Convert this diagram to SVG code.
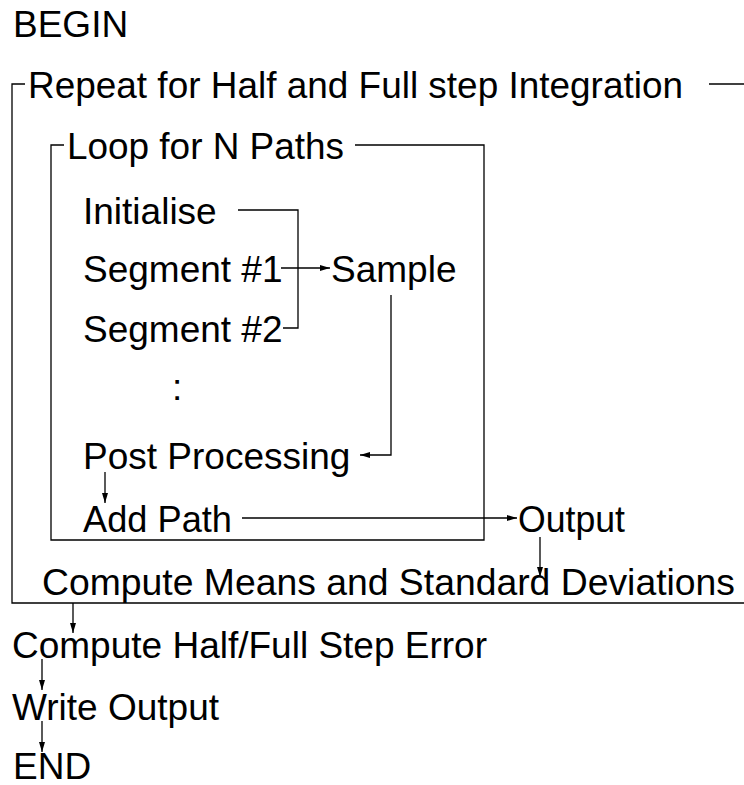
<svg xmlns="http://www.w3.org/2000/svg" width="744" height="785" viewBox="0 0 744 785">
<defs>
<style>
text{font-family:"Liberation Sans",Arial,sans-serif;font-size:37px;fill:#000}
.ln{fill:none;stroke:#000;stroke-width:1.3}
</style>
<marker id="ah" markerWidth="10" markerHeight="8" refX="10" refY="4" orient="auto" markerUnits="userSpaceOnUse">
<path d="M0,1 L10,4 L0,7 Z" fill="#000"/>
</marker>
</defs>
<rect width="744" height="785" fill="#fff"/>
<g id="frames">
<path class="ln" d="M25,84 H12 V603 H744"/>
<path class="ln" d="M709,84 H744"/>
<path class="ln" d="M64,145 H51 V540 H484 V145 H355"/>
</g>
<g id="connectors">
<path class="ln" d="M238,210 H298 V328 H283"/>
<path class="ln" d="M281,268 H330" marker-end="url(#ah)"/>
<path class="ln" d="M391,295 V455 H360" marker-end="url(#ah)"/>
<path class="ln" d="M105,472 V503" marker-end="url(#ah)"/>
<path class="ln" d="M242,518 H517" marker-end="url(#ah)"/>
<path class="ln" d="M540,537 V577" marker-end="url(#ah)"/>
<path class="ln" d="M73,603 V633" marker-end="url(#ah)"/>
<path class="ln" d="M42,659 V690" marker-end="url(#ah)"/>
<path class="ln" d="M42,721 V752" marker-end="url(#ah)"/>
</g>
<g id="begin"><text x="13" y="37">BEGIN</text></g>
<g id="repeat"><text x="28" y="98" textLength="655" lengthAdjust="spacingAndGlyphs">Repeat for Half and Full step Integration</text></g>
<g id="loop"><text x="67" y="159" textLength="277" lengthAdjust="spacingAndGlyphs">Loop for N Paths</text></g>
<g id="initialise"><text x="83" y="224">Initialise</text></g>
<g id="segment1"><text x="83" y="282">Segment #1</text></g>
<g id="sample"><text x="331" y="282">Sample</text></g>
<g id="segment2"><text x="83" y="342">Segment #2</text></g>
<g id="dots"><text x="172" y="400">:</text></g>
<g id="post"><text x="83" y="469">Post Processing</text></g>
<g id="addpath"><text x="83" y="532" textLength="149" lengthAdjust="spacingAndGlyphs">Add Path</text></g>
<g id="output"><text x="518" y="532" textLength="107" lengthAdjust="spacingAndGlyphs">Output</text></g>
<g id="means"><text x="42" y="595" textLength="693" lengthAdjust="spacingAndGlyphs">Compute Means and Standard Deviations</text></g>
<g id="error"><text x="12" y="658">Compute Half/Full Step Error</text></g>
<g id="write"><text x="12" y="720">Write Output</text></g>
<g id="end"><text x="13" y="779">END</text></g>
</svg>
